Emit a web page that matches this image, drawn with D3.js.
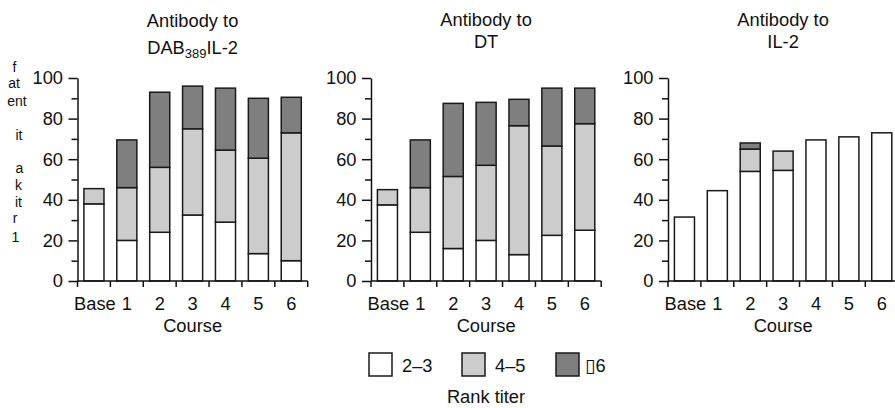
<!DOCTYPE html>
<html>
<head>
<meta charset="utf-8" />
<style>

body {
    margin: 0;
    background-color: #FFF;
}

text {
    font-family: "Liberation Sans", Arial, sans-serif;
    fill: #111;
}

</style>
</head>

<body>
<div id="chart"></div>

<script src="https://d3js.org/d3.v7.min.js"></script>
<script>

// values (percent of patients)
var courses = ["Base", "1", "2", "3", "4", "5", "6"];
var rankKeys = ["2–3", "4–5", "6"];

var dabLow  = [38, 20, 24, 32.5, 29, 13.5, 10];
var dabMid  = [7.5, 26, 32, 42.5, 35.5, 47, 63];
var dabHigh = [0, 23.5, 37, 21, 30.5, 29.5, 17.5];

var dtLow  = [37.5, 24, 16, 20, 13, 22.5, 25];
var dtMid  = [7.5, 22, 35.5, 37, 63.5, 44, 52.5];
var dtHigh = [0, 23.5, 36, 31, 13, 28.5, 17.5];

var il2Low  = [31.5, 44.5, 54, 54.5, 69.5, 71, 73];
var il2Mid  = [0, 0, 11, 9.5, 0, 0, 0];
var il2High = [0, 0, 3, 0, 0, 0, 0];

var yTicks = [0, 10, 20, 30, 40, 50, 60, 70, 80, 90, 100];

// the broken y axis title, as it shows in the figure
var yLabelParts = ["f", "at", "ent", "it", "a", "k", "it", "r", "1"];

var panels = [
    {sub: "DAB", subNum: "389", rest: "IL-2", low: dabLow, mid: dabMid, high: dabHigh},
    {sub: "DT", low: dtLow, mid: dtMid, high: dtHigh},
    {sub: "IL-2", low: il2Low, mid: il2Mid, high: il2High}
];

var width = 895, height = 408;
var fills = ["#ffffff", "#cccccc", "#7f7f7f"];
var panelLeft = [77.5, 371, 668];
var panelWidth = 230.2;
var fs = "18.3px";

var svg = d3.select("#chart").append("svg")
    .attr("width", width)
    .attr("height", height);

var y = d3.scaleLinear().domain([0, 100]).range([281, 78]);

var stack = d3.stack().keys([0, 1, 2]);

panels.forEach(function(p, pi) {
    var x0 = panelLeft[pi];
    var x = d3.scaleBand()
        .domain(courses)
        .range([x0, x0 + panelWidth])
        .paddingInner(0.39)
        .paddingOuter(0.195);

    var g = svg.append("g");

    var rows = courses.map(function(c, i) {
        return {c: c, 0: p.low[i], 1: p.mid[i], 2: p.high[i]};
    });
    var series = stack(rows);

    series.forEach(function(s, si) {
        g.selectAll(null)
            .data(s.filter(function(d) { return d[1] - d[0] > 0; }))
            .enter().append("rect")
            .attr("x", function(d) { return x(d.data.c); })
            .attr("width", x.bandwidth())
            .attr("y", function(d) { return y(d[1]); })
            .attr("height", function(d) { return y(d[0]) - y(d[1]); })
            .attr("fill", fills[si])
            .attr("stroke", "#1a1a1a")
            .attr("stroke-width", 1.5);
    });

    // y axis
    var yAxis = g.append("g")
        .attr("transform", "translate(" + x0 + ",0)")
        .call(d3.axisLeft(y).tickValues(yTicks).tickSize(6).tickSizeOuter(0));
    yAxis.select(".domain").attr("stroke", "#111").attr("stroke-width", 1.5);
    yAxis.selectAll(".tick line")
        .attr("stroke", "#111").attr("stroke-width", 1.5)
        .attr("x2", function(d) { return d % 20 === 0 ? -9 : -6; });
    yAxis.selectAll(".tick text")
        .attr("x", -14.5)
        .style("font-family", "Liberation Sans, Arial, sans-serif")
        .style("font-size", fs)
        .attr("fill", "#111")
        .text(function(d) { return d % 20 === 0 ? d : ""; });

    // x axis line with ticks at band edges
    var step = x.step();
    g.append("line")
        .attr("x1", x0).attr("x2", x0 + panelWidth)
        .attr("y1", y(0)).attr("y2", y(0))
        .attr("stroke", "#111").attr("stroke-width", 1.5);
    g.selectAll(null)
        .data(d3.range(courses.length + 1))
        .enter().append("line")
        .attr("x1", function(k) { return x0 + k * step; })
        .attr("x2", function(k) { return x0 + k * step; })
        .attr("y1", y(0)).attr("y2", y(0) + 6)
        .attr("stroke", "#111").attr("stroke-width", 1.5);

    g.selectAll(null)
        .data(courses)
        .enter().append("text")
        .attr("x", function(c) { return x(c) + x.bandwidth() / 2 + (c === "Base" ? 1 : 0); })
        .attr("y", 310)
        .attr("text-anchor", "middle")
        .style("font-size", fs)
        .text(function(c) { return c; });

    var cx = x0 + panelWidth / 2;
    g.append("text")
        .attr("x", cx).attr("y", 332)
        .attr("text-anchor", "middle")
        .style("font-size", fs)
        .text("Course");

    // title
    var t1 = pi === 0 ? 27 : 25.5;
    var t2 = pi === 0 ? 54 : 48;
    g.append("text")
        .attr("x", cx).attr("y", t1)
        .attr("text-anchor", "middle")
        .style("font-size", fs)
        .text("Antibody to");
    var tt = g.append("text")
        .attr("x", cx).attr("y", t2)
        .attr("text-anchor", "middle")
        .style("font-size", fs);
    tt.append("tspan").text(p.sub);
    if (p.subNum) {
        tt.append("tspan").attr("dy", 4).style("font-size", "13px").text(p.subNum);
        tt.append("tspan").attr("dy", -4).text(p.rest);
    }
});

// y label fragments
var yLabelPos = [[14.5, 71.5], [14, 88], [17, 106], [19, 140], [19.5, 173],
                 [18.5, 190], [18.5, 207], [15, 223], [15.5, 241.5]];
svg.selectAll(null)
    .data(yLabelParts)
    .enter().append("text")
    .attr("x", function(d, i) { return yLabelPos[i][0]; })
    .attr("y", function(d, i) { return yLabelPos[i][1]; })
    .attr("text-anchor", "middle")
    .style("font-size", "14px")
    .text(function(d) { return d; });

// legend
var legendX = [369, 462, 556];
var lg = svg.selectAll(".leg")
    .data(rankKeys)
    .enter().append("g")
    .attr("class", "leg")
    .attr("transform", function(d, i) { return "translate(" + legendX[i] + ",353)"; });
lg.append("rect")
    .attr("width", 23).attr("height", 23)
    .attr("fill", function(d, i) { return fills[i]; })
    .attr("stroke", "#1a1a1a").attr("stroke-width", 1.5);
var lt = lg.append("text")
    .attr("x", function(d, i) { return i === 2 ? 29 : 33; })
    .attr("y", 19)
    .style("font-size", fs);
// the last key starts with a missing glyph box in the figure
lt.filter(function(d, i) { return i === 2; })
    .append("tspan")
    .style("font-family", "DejaVu Sans")
    .style("font-size", "19px")
    .attr("fill", "#111")
    .text("\u25AF");
lt.append("tspan").text(function(d) { return d; });

svg.append("text")
    .attr("x", 486).attr("y", 403)
    .attr("text-anchor", "middle")
    .style("font-size", fs)
    .text("Rank titer");

</script>
</body>
</html>
